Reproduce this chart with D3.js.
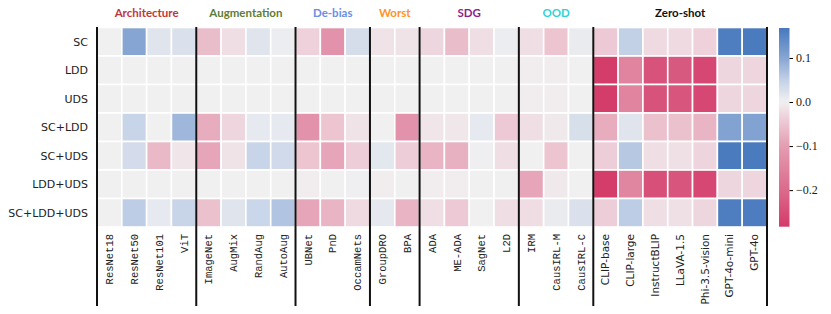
<!DOCTYPE html>
<html>
<head>
<meta charset="utf-8">
<script src="https://cdn.jsdelivr.net/npm/d3@7"></script>
<style>
  body { margin: 0; background: #fff; }
  svg { display: block; }
</style>
</head>
<body>
<div class="chart"></div>
<script>
    'use strict';

    var rows = ['SC', 'LDD', 'UDS', 'SC+LDD', 'SC+UDS', 'LDD+UDS', 'SC+LDD+UDS'];

    var columns = ['ResNet18', 'ResNet50', 'ResNet101', 'ViT',
        'ImageNet', 'AugMix', 'RandAug', 'AutoAug',
        'UBNet', 'PnD', 'OccamNets',
        'GroupDRO', 'BPA',
        'ADA', 'ME-ADA', 'SagNet', 'L2D',
        'IRM', 'CausIRL-M', 'CausIRL-C',
        'CLIP-base', 'CLIP-large', 'InstructBLIP', 'LLaVA-1.5', 'Phi-3.5-vision', 'GPT-4o-mini', 'GPT-4o'];

    var groups = ['Architecture', 'Augmentation', 'De-bias', 'Worst', 'SDG', 'OOD', 'Zero-shot'];
    var groupSizes = [4, 4, 3, 2, 4, 3, 7];
    var groupColors = ['#c0363c', '#5f7d34', '#6b8ee6', '#ff9326', '#8f1d8f', '#2fd3d6', '#111111'];

    // one array per row, same order as columns
    var valsSC =       [0, 0.10, 0.02, 0.025, -0.06, -0.02, 0.02, 0.005, -0.035, -0.12, 0.03, -0.015, -0.015, -0.03, -0.06, -0.02, 0.005, -0.02, -0.05, 0.008, -0.045, 0.05, -0.025, -0.025, -0.035, 0.16, 0.165];
    var valsLDD =      [0, 0, 0, 0, 0, 0, 0, 0, 0, 0, 0, 0, 0, 0, 0, 0, 0, -0.005, -0.005, 0, -0.28, -0.15, -0.24, -0.23, -0.26, -0.03, -0.03];
    var valsUDS =      [0, 0, 0, 0, 0, 0, 0, 0, 0, 0, 0, 0, 0, 0, 0, 0, 0, -0.005, -0.005, 0, -0.28, -0.15, -0.24, -0.235, -0.26, -0.03, -0.03];
    var valsSCLDD =    [0, 0.045, 0, 0.08, -0.08, -0.03, 0.012, 0.012, -0.12, -0.05, -0.015, 0, -0.12, -0.012, -0.01, 0.012, -0.045, -0.02, -0.008, 0.028, -0.08, 0.018, -0.055, -0.055, -0.07, 0.105, 0.105];
    var valsSCUDS =    [0, 0.032, -0.065, -0.012, -0.09, -0.015, 0.045, 0.035, -0.05, -0.09, -0.04, 0.015, -0.04, -0.07, -0.075, 0.002, -0.02, 0, -0.05, 0, -0.04, 0.06, -0.02, -0.018, -0.032, 0.165, 0.165];
    var valsLDDUDS =   [0, 0, 0, 0, 0, 0, 0, 0, -0.005, 0, 0.002, -0.005, 0, -0.005, -0.005, 0, 0, -0.09, -0.008, 0, -0.28, -0.145, -0.245, -0.235, -0.26, -0.03, -0.03];
    var valsSCLDDUDS = [0, 0.055, 0.012, 0.045, -0.055, 0.018, 0.042, 0.065, -0.09, -0.07, -0.025, 0.013, -0.07, -0.02, -0.045, 0, -0.02, -0.022, 0.008, 0.025, -0.04, 0.055, -0.02, -0.018, -0.03, 0.16, 0.162];

    var values = [valsSC, valsLDD, valsUDS, valsSCLDD, valsSCUDS, valsLDDUDS, valsSCLDDUDS];

    var cbTicks = [0.1, 0.0, -0.1, -0.2];
    var vmin = -0.283, vmax = 0.168;

    var width = 831, height = 314;
    var gridLeft = 97, gridRight = 767, gridTop = 27.5, gridBottom = 227;

    var svg = d3.select('.chart').append('svg')
        .attr('width', width)
        .attr('height', height);

    var x = d3.scaleBand().domain(columns).range([gridLeft, gridRight]);
    var y = d3.scaleBand().domain(rows).range([gridTop, gridBottom]);

    var color = d3.scaleLinear()
        .domain([vmin, -0.2, -0.1, -0.04, 0, 0.05, 0.1, vmax])
        .range(['#d43a69', '#db6a8d', '#e49db2', '#edcdd7', '#f1f0f1', '#c3d1e7', '#87a5d2', '#4779be'])
        .clamp(true);

    var cells = [];
    values.forEach(function(r, i){
        r.forEach(function(v, j){
            cells.push({row: rows[i], col: columns[j], v: v});
        });
    });

    svg.append('g').selectAll('rect')
        .data(cells)
        .enter().append('rect')
        .attr('x', function(d){ return x(d.col); })
        .attr('y', function(d){ return y(d.row); })
        .attr('width', x.bandwidth())
        .attr('height', y.bandwidth())
        .attr('fill', function(d){ return color(d.v); })
        .attr('stroke', '#fff')
        .attr('stroke-width', 1.6);

    // row labels
    svg.append('g').selectAll('text')
        .data(rows)
        .enter().append('text')
        .attr('x', 88)
        .attr('y', function(d){ return y(d) + y.bandwidth() / 2; })
        .attr('dy', '0.35em')
        .attr('text-anchor', 'end')
        .style('font-family', 'DejaVu Sans')
        .style('font-size', '11px')
        .style('fill', '#222')
        .text(function(d){ return d; });

    // column labels
    var zeroStart = columns.length - groupSizes[groupSizes.length - 1];
    svg.append('g').selectAll('text')
        .data(columns)
        .enter().append('text')
        .attr('transform', function(d){
            return 'translate(' + (x(d) + x.bandwidth() / 2) + ',234)rotate(-90)';
        })
        .attr('dy', '0.35em')
        .attr('text-anchor', 'end')
        .style('font-family', function(d, i){ return i >= zeroStart ? 'DejaVu Sans' : 'Liberation Mono'; })
        .style('font-size', '10.5px')
        .style('fill', '#222')
        .text(function(d){ return d; });

    // group separators and titles
    var bounds = [0];
    groupSizes.forEach(function(n, i){ bounds.push(bounds[i] + n); });

    function edge(b){ return b < columns.length ? x(columns[b]) : gridRight; }

    svg.append('g').selectAll('line')
        .data(bounds)
        .enter().append('line')
        .attr('x1', edge)
        .attr('x2', edge)
        .attr('y1', 27)
        .attr('y2', 306)
        .attr('stroke', '#111')
        .attr('stroke-width', 2);

    svg.append('g').selectAll('text')
        .data(groups)
        .enter().append('text')
        .attr('x', function(g, i){ return (edge(bounds[i]) + edge(bounds[i + 1])) / 2; })
        .attr('y', 13)
        .attr('dy', '0.35em')
        .attr('text-anchor', 'middle')
        .style('font-family', 'Lato')
        .style('font-weight', 'bold')
        .style('font-size', '11.5px')
        .style('fill', function(g, i){ return groupColors[i]; })
        .text(function(d){ return d; });

    // colorbar
    var cbX = 779, cbW = 10.5;
    var cbY = d3.scaleLinear().domain([vmin, vmax]).range([226.7, 28]);

    var grad = svg.append('defs').append('linearGradient')
        .attr('id', 'cbgrad')
        .attr('x1', 0).attr('y1', 1).attr('x2', 0).attr('y2', 0);
    d3.range(0, 1.0001, 0.02).forEach(function(t){
        grad.append('stop')
            .attr('offset', t)
            .attr('stop-color', color(vmin + t * (vmax - vmin)));
    });

    svg.append('rect')
        .attr('x', cbX)
        .attr('y', cbY(vmax))
        .attr('width', cbW)
        .attr('height', cbY(vmin) - cbY(vmax))
        .attr('fill', 'url(#cbgrad)');

    var cbAxis = svg.append('g')
        .attr('transform', 'translate(' + (cbX + cbW) + ',0)')
        .call(d3.axisRight(cbY).tickValues(cbTicks).tickSize(3.5).tickPadding(3)
            .tickFormat(function(d){ return d3.format('.1f')(d).replace('-', '\u2212'); }));
    cbAxis.select('.domain').remove();
    cbAxis.selectAll('text')
        .style('font-family', 'Liberation Serif')
        .style('font-size', '12px')
        .style('fill', '#222');
</script>
</body>
</html>
